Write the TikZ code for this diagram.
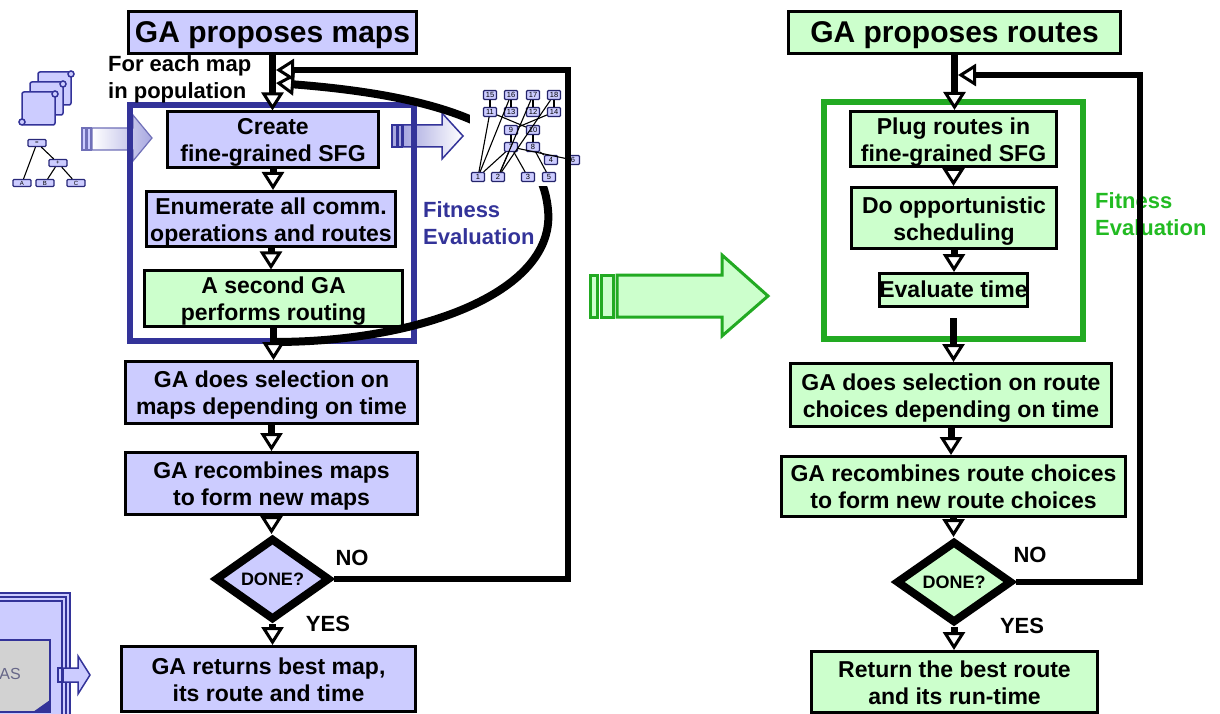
\documentclass[tikz,border=0pt]{standalone}
\usepackage{fontspec}
\setmainfont{Liberation Sans}
\usetikzlibrary{arrows.meta,shapes.geometric}
\definecolor{lav}{HTML}{CCCCFF}
\definecolor{mint}{HTML}{CCFFCC}
\definecolor{indigo}{HTML}{333399}
\definecolor{leaf}{HTML}{22AA22}
\definecolor{leaftext}{HTML}{22BB22}
\definecolor{lilac}{HTML}{A8A8E0}
\definecolor{slate}{HTML}{666688}
\tikzset{
  flowtip/.tip={Triangle[length=18pt,width=22pt,fill=white,line width=3pt]},
}
% line-box struts so that text sits like a slide text frame
\newcommand{\topstrut}{\rule{0pt}{0.9em}}
\newcommand{\tallstrut}{\rule{0pt}{1.0em}}
\newcommand{\botstrut}{\rule[-0.22em]{0pt}{0.22em}}
\newcommand{\twolines}[2]{\tallstrut#1\\#2\botstrut}
\begin{document}
\begin{tikzpicture}[x=1pt,y=-1pt,
  txt/.style={font=\fontsize{23}{27}\selectfont\bfseries},
  box/.style={draw=black, line width=3pt, align=center, inner sep=0pt, txt,
    execute at begin node={\topstrut}, execute at end node={\botstrut}},
  bluebox/.style={box, fill=lav},
  greenbox/.style={box, fill=mint},
  headbox/.style={draw=black, line width=3pt, inner sep=0pt,
    execute at begin node={\topstrut}, execute at end node={\botstrut},
    font=\fontsize{30}{34}\selectfont\bfseries},
  decision/.style={diamond, draw=black, line width=8pt, inner sep=0pt,
    font=\fontsize{18}{20}\selectfont\bfseries},
  tag/.style={font=\fontsize{22}{27}\selectfont\bfseries, inner sep=0pt},
  flow/.style={line width=7pt, -flowtip},
  loopline/.style={line width=6pt, -flowtip},
  tnode/.style={draw=indigo!80!black, fill=lav, rounded corners=1pt, line width=1.2pt,
    minimum width=18pt, minimum height=7pt, inner sep=0pt, font=\fontsize{6}{6}\selectfont},
  gnode/.style={draw=indigo!70!black, fill=lav, line width=1.2pt, rounded corners=1pt,
    minimum width=13pt, minimum height=9pt, inner sep=0pt, font=\fontsize{7.5}{8}\selectfont},
  gedge/.style={line width=1.1pt, black},
]
\useasboundingbox (0,0) rectangle (1220,714);
\fill[white] (0,0) rectangle (1220,714);

% ---------- stacked mapping documents ----------
\foreach \dx/\dy in {16/-20, 8/-10, 0/0}{
  \filldraw[fill=lav, draw=indigo, line width=1.5pt, rounded corners=2pt]
    (22+\dx,92+\dy) rectangle (55+\dx,125+\dy);
  \filldraw[fill=lav, draw=indigo, line width=1.5pt] (55+\dx,94+\dy) circle (3);
  \filldraw[fill=lav, draw=indigo, line width=1.5pt] (22+\dx,122+\dy) circle (3);
}

% ---------- expression tree ----------
\node[tnode] (eq) at (37,143) {=};
\node[tnode] (pl) at (58,163) {+};
\node[tnode] (ta) at (22,183) {A};
\node[tnode] (tb) at (45,183) {B};
\node[tnode] (tc) at (76,183) {C};
\draw[gedge] (eq) -- (ta);
\draw[gedge] (eq) -- (pl);
\draw[gedge] (pl) -- (tb);
\draw[gedge] (pl) -- (tc);

% ---------- shaded block arrows ----------
\shadedraw[left color=lav, right color=lav, draw=indigo!70, line width=1.2pt] (82,128) rectangle (86,150);
\shadedraw[left color=lav, right color=lav, draw=indigo!70, line width=1.2pt] (87,128) rectangle (91,150);
\shadedraw[left color=white, right color=lilac, draw=indigo!70, line width=1.2pt]
  (92,128) -- (133,128) -- (133,115) -- (152,138) -- (133,161) -- (133,150) -- (92,150) -- cycle;

\shadedraw[left color=lilac, right color=lilac, draw=indigo, line width=1.5pt] (392,125) rectangle (397,147);
\shadedraw[left color=lilac, right color=lilac, draw=indigo, line width=1.5pt] (398,125) rectangle (402,147);
\shadedraw[left color=lilac, right color=white, draw=indigo, line width=1.5pt]
  (403,125) -- (442,125) -- (442,113) -- (463,136) -- (442,159) -- (442,147) -- (403,147) -- cycle;

% ---------- fitness evaluation frames ----------
\draw[indigo, line width=6pt] (130,105) rectangle (414,341);
\draw[leaf, line width=6pt] (824,102) rectangle (1083,339);

% ---------- left flow ----------
\node[headbox, fill=lav, minimum width=288pt, minimum height=42pt] (t1) at (272.5,32.5) {GA proposes maps};
\node[bluebox, minimum width=211pt, minimum height=54pt] (c1) at (273,139.5) {\twolines{Create}{fine-grained SFG}};
\node[bluebox, minimum width=249pt, minimum height=55pt] (c2) at (271,219) {\twolines{Enumerate all comm.}{operations and routes}};
\node[greenbox, minimum width=258pt, minimum height=54pt] (c3) at (273.5,298.5) {\twolines{A second GA}{performs routing}};
\node[bluebox, minimum width=292pt, minimum height=62pt] (c4) at (271.5,392.5) {\twolines{GA does selection on}{maps depending on time}};
\node[bluebox, minimum width=292pt, minimum height=62pt] (c5) at (271.5,483.5) {\twolines{GA recombines maps}{to form new maps}};
\node[decision, fill=lav, minimum width=115pt, minimum height=82pt] (d1) at (272.5,579) {DONE?};
\node[bluebox, minimum width=294pt, minimum height=65pt] (c6) at (268.5,679) {\twolines{GA returns best map,}{its route and time}};

\node[tag, anchor=west, align=left] (each) at (108,79.5) {For each map\\in population};
\node[tag, anchor=west, align=left, text=indigo] (fit1) at (423,223.5) {Fitness\\Evaluation};
\node[tag] (no1) at (352,558) {NO};
\node[tag] (yes1) at (328,624) {YES};

% feedback curve from routing back to the map loop
\coordinate (cs) at (273.5,342);
\coordinate (cm) at (548,210);
\coordinate (ce) at (276,83);
\draw[line width=8pt, -flowtip] (cs) .. controls (425,342) and (556,290) .. (cm)
  .. controls (542,140) and (470,98) .. (ce);

% ---------- fine-grained SFG graph ----------
\fill[white] (470,86) rectangle (583,186);
\node[gnode] (g15) at (490,95) {15};
\node[gnode] (g16) at (511,95) {16};
\node[gnode] (g17) at (533,95) {17};
\node[gnode] (g18) at (554,95) {18};
\node[gnode] (g11) at (490,112) {11};
\node[gnode] (g13) at (511,112) {13};
\node[gnode] (g12) at (533,112) {12};
\node[gnode] (g14) at (554,112) {14};
\node[gnode] (g9) at (511,130) {9};
\node[gnode] (g10) at (533,130) {10};
\node[gnode] (g7) at (511,147) {7};
\node[gnode] (g8) at (533,147) {8};
\node[gnode] (g4) at (551,160) {4};
\node[gnode] (g6) at (573,160) {6};
\node[gnode] (g1) at (478,177) {1};
\node[gnode] (g2) at (498,177) {2};
\node[gnode] (g3) at (528,177) {3};
\node[gnode] (g5) at (549,177) {5};
\foreach \a/\b in {g15/g11, g16/g13, g17/g12, g18/g14, g11/g10, g14/g9, g9/g7, g10/g8,
  g1/g11, g1/g16, g1/g7, g2/g17, g2/g18, g2/g7, g7/g3, g7/g6, g8/g4, g8/g5}
  \draw[gedge] (\a) -- (\b);

% left connectors
\draw[flow] (t1.south) -- (t1.south |- c1.north);
\draw[flow] (c1.south) -- (c1.south |- c2.north);
\draw[flow] (c2.south) -- (c2.south |- c3.north);
\draw[flow] (c3.south) -- (c3.south |- c4.north);
\draw[flow] (c4.south) -- (c4.south |- c5.north);
\draw[flow] (c5.south) -- (c5.south |- d1.north);
\draw[flow] (d1.south) -- (d1.south |- c6.north);
\coordinate (lt) at (568,70);
\draw[loopline] (d1.east) -| (lt) -- ([xshift=3.5pt]t1.south |- lt);

% ---------- middle transition arrow ----------
\filldraw[fill=mint, draw=leaf, line width=3pt] (590,275) rectangle (597,317);
\filldraw[fill=mint, draw=leaf, line width=3pt] (601,275) rectangle (613,317);
\filldraw[fill=mint, draw=leaf, line width=3pt, line join=miter]
  (617,275) -- (722,275) -- (722,255) -- (768,296) -- (722,336) -- (722,317) -- (617,317) -- cycle;

% ---------- right flow ----------
\node[headbox, fill=mint, minimum width=332pt, minimum height=42pt] (t2) at (954.5,32.5) {GA proposes routes};
\node[greenbox, minimum width=206pt, minimum height=51pt] (r1) at (953.5,139) {\twolines{Plug routes in}{fine-grained SFG}};
\node[greenbox, minimum width=205pt, minimum height=61pt] (r2) at (954,218) {\twolines{Do opportunistic}{scheduling}};
\node[greenbox, minimum width=148pt, minimum height=33pt] (r3) at (953.5,290) {Evaluate time};
\node[greenbox, minimum width=321pt, minimum height=63pt] (r4) at (951,395) {\twolines{GA does selection on route}{choices depending on time}};
\node[greenbox, minimum width=344pt, minimum height=60pt] (r5) at (953.5,486.5) {\twolines{GA recombines route choices}{to form new route choices}};
\node[decision, fill=mint, minimum width=116pt, minimum height=82pt] (d2) at (954,582) {DONE?};
\node[greenbox, minimum width=286pt, minimum height=61pt] (r6) at (954.5,682) {\twolines{Return the best route}{and its run-time}};

\node[tag, anchor=west, align=left, text=leaftext] (fit2) at (1095,214.5) {Fitness\\Evaluation};
\node[tag] (no2) at (1030,555) {NO};
\node[tag] (yes2) at (1022,626) {YES};

\draw[flow] (t2.south) -- (t2.south |- r1.north);
\draw[flow] (r1.south) -- (r1.south |- r2.north);
\draw[flow] (r2.south) -- (r2.south |- r3.north);
\draw[flow] ([yshift=-10pt]r3.south) -- (r3.south |- r4.north);
\draw[flow] (r4.south) -- (r4.south |- r5.north);
\draw[flow] (r5.south) -- (r5.south |- d2.north);
\draw[flow] (d2.south) -- (d2.south |- r6.north);
\coordinate (rt) at (1140,75);
\draw[loopline] (d2.east) -| (rt) -- ([xshift=3.5pt]t2.south |- rt);

% ---------- output block (bottom left) ----------
\fill[lav] (-5,593) rectangle (70,720);
\draw[indigo, line width=2pt] (-5,593) -- (70,593) -- (70,720);
\draw[indigo, line width=2pt] (-5,597) -- (66,597) -- (66,720);
\draw[indigo, line width=2pt] (-5,601) -- (62,601) -- (62,720);
\filldraw[fill=gray!35, draw=indigo, line width=2.5pt] (-5,640) rectangle (50,712);
\fill[indigo] (33,712) -- (50,700) -- (50,712) -- cycle;
\node[text=slate, font=\fontsize{16}{16}\selectfont, inner sep=0pt] (as) at (10,674) {AS};
\filldraw[fill=lav, draw=indigo, line width=1.5pt] (58,668) rectangle (62,682);
\filldraw[fill=lav, draw=indigo, line width=1.5pt]
  (63,668) -- (78,668) -- (78,656) -- (90,675) -- (78,694) -- (78,682) -- (63,682) -- cycle;
\end{tikzpicture}
\end{document}
